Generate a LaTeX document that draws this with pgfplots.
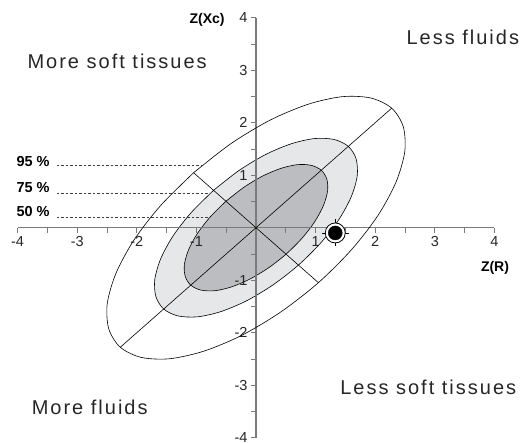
\documentclass[border=0pt]{standalone}
\usepackage{fontspec}
\setmainfont{Liberation Sans}
\newfontfamily\widefont[LetterSpace=10]{Liberation Sans}
\usepackage{pgfplots}
\pgfplotsset{compat=1.18}

\definecolor{band75}{HTML}{E6E7E8}
\definecolor{core50}{HTML}{BCBDC0}
\definecolor{axisgray}{HTML}{7A7A7A}

% 95 % ellipse (major axis along y=x), the others are scaled copies
\pgfplotstableread{
x y
-1.047 1.047
-1.600 0.422
-2.046 -0.232
-2.350 -0.870
-2.496 -1.448
-2.470 -1.928
-2.277 -2.277
-1.928 -2.470
-1.448 -2.496
-0.870 -2.350
-0.232 -2.046
0.422 -1.600
1.047 -1.047
1.600 -0.422
2.046 0.232
2.350 0.870
2.496 1.448
2.470 1.928
2.277 2.277
1.928 2.470
1.448 2.496
0.870 2.350
0.232 2.046
-0.422 1.600
-1.047 1.047
}\ellA
\pgfplotstableread{
x y
-0.712 0.712
-1.088 0.287
-1.392 -0.158
-1.599 -0.592
-1.698 -0.985
-1.680 -1.312
-1.549 -1.549
-1.312 -1.680
-0.985 -1.698
-0.592 -1.599
-0.158 -1.392
0.287 -1.088
0.712 -0.712
1.088 -0.287
1.392 0.158
1.599 0.592
1.698 0.985
1.680 1.312
1.549 1.549
1.312 1.680
0.985 1.698
0.592 1.599
0.158 1.392
-0.287 1.088
-0.712 0.712
}\ellB
\pgfplotstableread{
x y
-0.504 0.504
-0.770 0.203
-0.984 -0.112
-1.130 -0.418
-1.201 -0.696
-1.188 -0.927
-1.095 -1.095
-0.927 -1.188
-0.696 -1.201
-0.418 -1.130
-0.112 -0.984
0.203 -0.770
0.504 -0.504
0.770 -0.203
0.984 0.112
1.130 0.418
1.201 0.696
1.188 0.927
1.095 1.095
0.927 1.188
0.696 1.201
0.418 1.130
0.112 0.984
-0.203 0.770
-0.504 0.504
}\ellC

\begin{document}
\begin{tikzpicture}[x=1pt,y=1pt]
\begin{axis}[
  at={(0,0)}, anchor=south west,
  scale only axis, width=476.8pt, height=420pt,
  xmin=-4, xmax=4, ymin=-4, ymax=4,
  axis lines=middle,
  axis line style={axisgray, line width=1.3pt, -},
  xtick={-4,-3,-2,-1,0,1,2,3,4},
  ytick={-4,-3,-2,-1,0,1,2,3,4},
  xticklabels={-4,-3,-2,-1,,1,2,3,4},
  yticklabels={-4,-3,-2,-1,,1,2,3,4},
  minor tick num=1,
  tick align=outside,
  major tick length=5pt, minor tick length=5pt,
  tick style={axisgray, line width=0.8pt},
  ticklabel style={font=\fontsize{14.5}{15}\selectfont, text=black!85},
  set layers,
  clip=false,
]
\addplot[on layer=axis background, draw=black, fill=band75, line width=0.6pt, smooth] table {\ellB} -- cycle;
\addplot[on layer=axis background, draw=black, fill=core50, line width=0.6pt, smooth] table {\ellC} -- cycle;
\addplot[draw=black, line width=0.6pt, smooth] table {\ellA};

\addplot[black, line width=0.6pt] coordinates {(-2.277,-2.277) (2.277,2.277)};
\addplot[black, line width=0.6pt] coordinates {(-1.047,1.047) (1.047,-1.047)};

\addplot[black!75, line width=0.6pt, dash pattern=on 2.5pt off 2pt] coordinates {(-3.34,1.19) (-0.90,1.19)};
\addplot[black!75, line width=0.6pt, dash pattern=on 2.5pt off 2pt] coordinates {(-3.34,0.655) (-0.77,0.655)};
\addplot[black!75, line width=0.6pt, dash pattern=on 2.5pt off 2pt] coordinates {(-3.34,0.19) (-0.78,0.19)};

% measured subject
\addplot[only marks, mark=+, mark size=13.5pt, mark options={black, line width=0.7pt}] coordinates {(1.33,-0.10)};
\addplot[only marks, mark=*, mark size=10pt, mark options={draw=black, fill=white, line width=0.8pt}] coordinates {(1.33,-0.10)};
\addplot[only marks, mark=*, mark size=7pt, mark options={black}] coordinates {(1.33,-0.10)};

\node[font=\bfseries\fontsize{14.5}{15}\selectfont] at (axis cs:-3.74,1.27) {95 \%};
\node[font=\bfseries\fontsize{14.5}{15}\selectfont] at (axis cs:-3.74,0.77) {75 \%};
\node[font=\bfseries\fontsize{14.5}{15}\selectfont] at (axis cs:-3.74,0.30) {50 \%};
\node[font=\bfseries\fontsize{14}{15}\selectfont] at (axis cs:-0.82,3.96) {Z(Xc)};
\node[font=\bfseries\fontsize{14}{15}\selectfont] at (axis cs:4.01,-0.77) {Z(R)};

\node[font=\widefont\fontsize{20}{22}\selectfont, text=black!85] at (axis cs:-2.33,3.16) {More soft tissues};
\node[font=\widefont\fontsize{20}{22}\selectfont, text=black!85] at (axis cs:3.47,3.63) {Less fluids};
\node[font=\widefont\fontsize{20}{22}\selectfont, text=black!85] at (axis cs:2.89,-3.04) {Less soft tissues};
\node[font=\widefont\fontsize{20}{22}\selectfont, text=black!85] at (axis cs:-2.79,-3.43) {More fluids};
\end{axis}
\pgfresetboundingbox
\useasboundingbox (-17.6,-4.3) rectangle (507.4,437.7);
\end{tikzpicture}
\end{document}
